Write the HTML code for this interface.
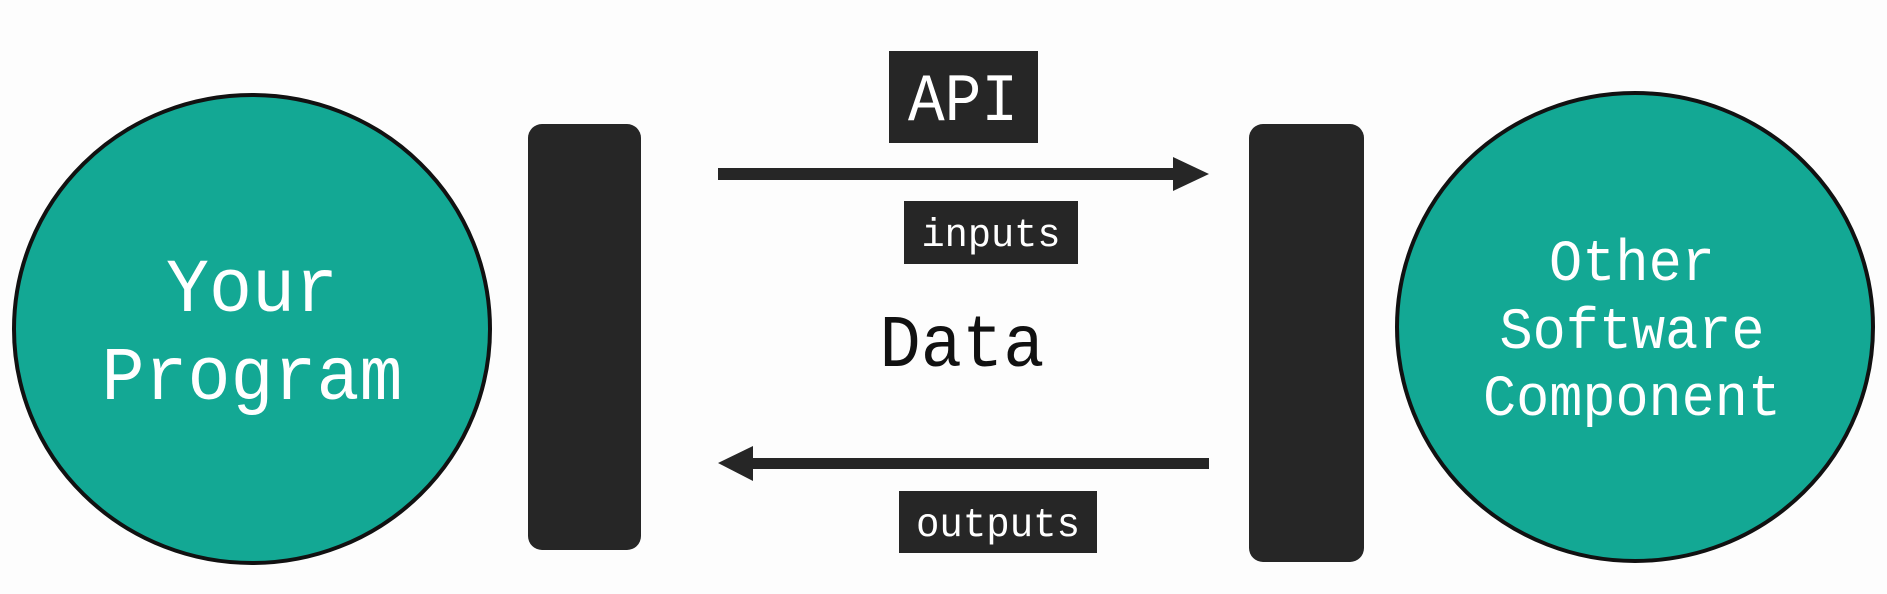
<!DOCTYPE html>
<html><head><meta charset="utf-8"><style>
html,body{margin:0;padding:0;background:#fff;}
svg{display:block}
text{font-family:"Liberation Mono","DejaVu Sans Mono",monospace;}
</style></head><body>
<svg width="1887" height="594" viewBox="0 0 1887 594" xmlns="http://www.w3.org/2000/svg">
<rect width="1887" height="594" fill="#fdfdfd"/>
<ellipse cx="252" cy="329" rx="238" ry="234" fill="#13a894" stroke="#111" stroke-width="4"/>
<ellipse cx="1635" cy="327" rx="238" ry="234" fill="#13a894" stroke="#111" stroke-width="4"/>
<text x="252" y="311" font-size="76" fill="#fff" text-anchor="middle" textLength="172" lengthAdjust="spacingAndGlyphs">Your</text>
<text x="252" y="399" font-size="76" fill="#fff" text-anchor="middle" textLength="301" lengthAdjust="spacingAndGlyphs">Program</text>
<text x="1632" y="280" font-size="58" fill="#fff" text-anchor="middle" textLength="166" lengthAdjust="spacingAndGlyphs">Other</text>
<text x="1632" y="348" font-size="58" fill="#fff" text-anchor="middle" textLength="265" lengthAdjust="spacingAndGlyphs">Software</text>
<text x="1632" y="415" font-size="58" fill="#fff" text-anchor="middle" textLength="298" lengthAdjust="spacingAndGlyphs">Component</text>
<rect x="528" y="124" width="113" height="426" rx="14" fill="#262626"/>
<rect x="1249" y="124" width="115" height="438" rx="14" fill="#262626"/>
<rect x="889" y="51" width="149" height="92" fill="#262626"/>
<text x="963" y="120" font-size="68" fill="#fff" text-anchor="middle" textLength="110" lengthAdjust="spacingAndGlyphs">API</text>
<rect x="718" y="168" width="460" height="12" fill="#262626"/>
<polygon points="1173,157 1209,174 1173,191" fill="#262626"/>
<rect x="904" y="201" width="174" height="63" fill="#262626"/>
<text x="991" y="246" font-size="40" fill="#fff" text-anchor="middle" textLength="139" lengthAdjust="spacingAndGlyphs">inputs</text>
<text x="962" y="366" font-size="74" fill="#111" text-anchor="middle" textLength="165" lengthAdjust="spacingAndGlyphs">Data</text>
<rect x="750" y="458" width="459" height="11" fill="#262626"/>
<polygon points="753,446 718,463 753,481" fill="#262626"/>
<rect x="899" y="491" width="198" height="62" fill="#262626"/>
<text x="998" y="536" font-size="41" fill="#fff" text-anchor="middle" textLength="164" lengthAdjust="spacingAndGlyphs">outputs</text>
</svg>
</body></html>
